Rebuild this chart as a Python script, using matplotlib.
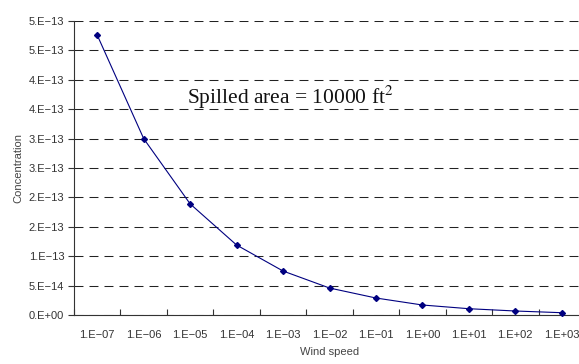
import numpy as np
import matplotlib
matplotlib.use("Agg")
import matplotlib.pyplot as plt
import matplotlib.transforms as mtransforms

# wind speed categories (Excel-style category axis)
wind_labels = ['1.E\u221207', '1.E\u221206', '1.E\u221205', '1.E\u221204', '1.E\u221203',
               '1.E\u221202', '1.E\u221201', '1.E+00', '1.E+01', '1.E+02', '1.E+03']
concentration = [4.76e-13, 3.00e-13, 1.89e-13, 1.19e-13, 7.48e-14, 4.59e-14,
                 2.89e-14, 1.70e-14, 1.07e-14, 6.8e-15, 3.9e-15]
y_ticks = [0, 5e-14, 1e-13, 1.5e-13, 2e-13, 2.5e-13, 3e-13, 3.5e-13, 4e-13, 4.5e-13, 5e-13]
y_labels = ['0.E+00', '5.E\u221214', '1.E\u221213', '2.E\u221213', '2.E\u221213', '3.E\u221213',
            '3.E\u221213', '4.E\u221213', '4.E\u221213', '5.E\u221213', '5.E\u221213']

plt.rcParams['font.family'] = ['Liberation Sans', 'DejaVu Sans']

fig = plt.figure(figsize=(5.79, 3.64), dpi=100)
ax = fig.add_axes([74 / 579, 1 - 315 / 364, 511 / 579, 294 / 364])

x = np.arange(len(wind_labels))
ax.plot(x, concentration, color='#000080', linewidth=0.8, marker='D', markersize=3,
        markerfacecolor='#000080', markeredgecolor='#000080', zorder=3, clip_on=False)

ax.set_xlim(-0.5, len(wind_labels) - 0.5)
ax.set_ylim(0, 5e-13)

# category boundaries get tick marks, centers get labels
ax.set_xticks(np.arange(len(wind_labels) + 1) - 0.5)
ax.set_xticklabels([])
ax.set_xticks(x, minor=True)
ax.set_xticklabels(wind_labels, minor=True, fontsize=8, color='#333333')
ax.tick_params(axis='x', which='major', direction='in', length=4, color='#333333')
ax.tick_params(axis='x', which='minor', length=0, pad=11)

ax.set_yticks(y_ticks)
ax.set_yticklabels(y_labels, fontsize=8, color='#333333')
ax.tick_params(axis='y', direction='out', length=4, color='#333333', pad=3)

ax.yaxis.grid(True, color='#222222', linestyle=(0, (8.6, 5.8)), linewidth=0.75)
ax.set_axisbelow(True)

for side in ['top', 'right']:
    ax.spines[side].set_visible(False)
ax.spines['left'].set_color('#333333')
ax.spines['bottom'].set_color('#333333')

ax.set_xlabel('Wind speed', fontsize=8, color='#444444', labelpad=5)
ax.set_ylabel('Concentration', fontsize=8, color='#444444', labelpad=4)

# annotation placed in pixel coords from the top-left corner
t = ax.text(187, 104, 'Spilled area = 10000 ft$^2$', fontsize=15.5,
            family='Liberation Serif', color='#111111', va='baseline', ha='left',
            transform=mtransforms.Affine2D().scale(1, -1).translate(0, 364))
t.set_math_fontfamily('stix')

fig.savefig('out.png', dpi=100)
